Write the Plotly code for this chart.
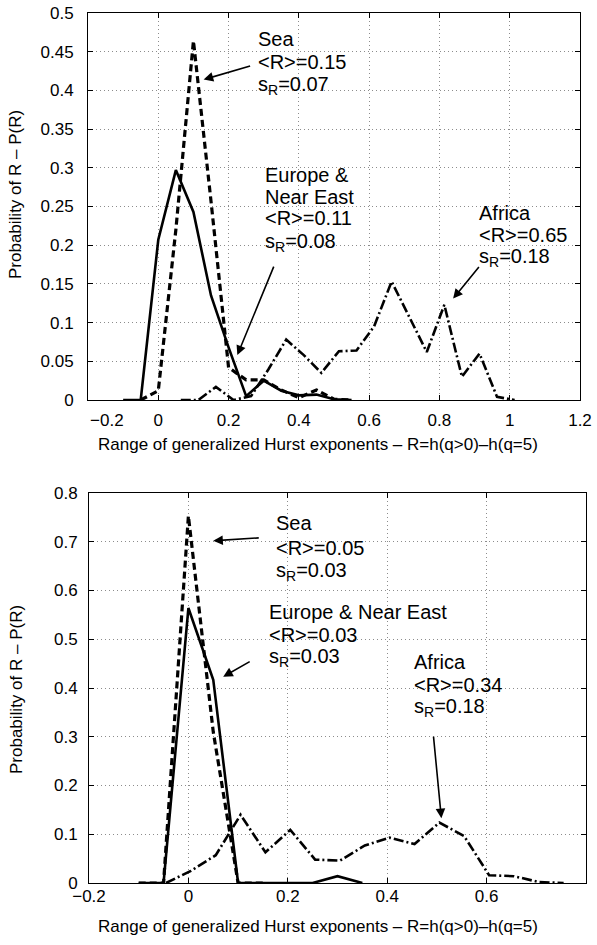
import plotly.graph_objects as go

# ---------------- data ----------------
# Top panel
eu_x_top = [-0.1, -0.05, 0, 0.05, 0.1, 0.15, 0.2, 0.25, 0.3, 0.35, 0.4, 0.45, 0.5, 0.55]
eu_y_top = [0, 0, 0.207, 0.297, 0.243, 0.135, 0.068, 0.005, 0.025, 0.012, 0.006, 0.007, 0.001, 0]
sea_x_top = [-0.05, 0, 0.05, 0.1, 0.15, 0.2, 0.25, 0.3, 0.35, 0.4, 0.45, 0.5, 0.55]
sea_y_top = [0, 0.012, 0.22, 0.464, 0.257, 0.042, 0.026, 0.026, 0.013, 0.003, 0.013, 0.001, 0]
af_x_top = [0.064, 0.114, 0.164, 0.214, 0.264, 0.314, 0.364, 0.414, 0.464, 0.514,
            0.564, 0.614, 0.664, 0.714, 0.764, 0.814, 0.864, 0.914, 0.964, 1.014]
af_y_top = [0, 0, 0.017, 0.0, 0.005, 0.04, 0.078, 0.058, 0.035, 0.063,
            0.064, 0.095, 0.153, 0.108, 0.062, 0.123, 0.03, 0.06, 0.004, 0]

# Bottom panel
eu_x_bot = [-0.1, -0.05, 0, 0.05, 0.1, 0.15, 0.2, 0.25, 0.3, 0.35]
eu_y_bot = [0, 0, 0.564, 0.417, 0, 0, 0, 0, 0.014, 0]
sea_x_bot = [-0.1, -0.05, 0, 0.05, 0.1, 0.15]
sea_y_bot = [0, 0, 0.753, 0.31, 0, 0]
af_x_bot = [-0.045, 0.005, 0.055, 0.105, 0.155, 0.205, 0.255, 0.305, 0.355, 0.405,
            0.455, 0.505, 0.555, 0.605, 0.655, 0.705, 0.755]
af_y_bot = [0, 0.025, 0.057, 0.14, 0.063, 0.109, 0.048, 0.046, 0.077, 0.093,
            0.08, 0.124, 0.096, 0.016, 0.014, 0.002, 0]

# tick labels
NB = "\u00a0"
xt_top_vals = [-0.2, 0, 0.2, 0.4, 0.6, 0.8, 1.0, 1.2]
xt_top_text = [NB * 8 + "\u22120.2", "0", "0.2", "0.4", "0.6", "0.8", "1", "1.2"]
yt_top_vals = [0, 0.05, 0.1, 0.15, 0.2, 0.25, 0.3, 0.35, 0.4, 0.45, 0.5]
yt_top_text = ["0", "0.05", "0.1", "0.15", "0.2", "0.25", "0.3", "0.35", "0.4", "0.45", "0.5"]
xt_bot_vals = [-0.2, 0, 0.2, 0.4, 0.6, 0.8]
xt_bot_text = ["\u22120.2", "0", "0.2", "0.4", "0.6", "0.8"]
yt_bot_vals = [0, 0.1, 0.2, 0.3, 0.4, 0.5, 0.6, 0.7, 0.8]
yt_bot_text = ["0", "0.1", "0.2", "0.3", "0.4", "0.5", "0.6", "0.7", "0.8"]

x_title = "Range of generalized Hurst exponents \u2013 R=h(q>0)\u2013h(q=5)"
y_title = "Probability of R \u2013 P(R)"

# ---------------- figure ----------------
W, H = 597, 945
FONT = "Liberation Sans, Arial, Helvetica, sans-serif"


def px(x):
    return x / W


def py(y):
    return 1 - y / H


fig = go.Figure()

solid = dict(color="black", width=2.6)
sea_line = dict(color="black", width=3.2, dash="7px,4px")
af_line = dict(color="black", width=2.6, dash="10px,3px,2px,3px")

fig.add_trace(go.Scatter(x=eu_x_top, y=eu_y_top, mode="lines", line=solid, xaxis="x", yaxis="y"))
fig.add_trace(go.Scatter(x=sea_x_top, y=sea_y_top, mode="lines", line=sea_line, xaxis="x", yaxis="y"))
fig.add_trace(go.Scatter(x=af_x_top, y=af_y_top, mode="lines", line=af_line, xaxis="x", yaxis="y"))

fig.add_trace(go.Scatter(x=eu_x_bot, y=eu_y_bot, mode="lines", line=solid, xaxis="x2", yaxis="y2"))
fig.add_trace(go.Scatter(x=sea_x_bot, y=sea_y_bot, mode="lines", line=sea_line, xaxis="x2", yaxis="y2"))
fig.add_trace(go.Scatter(x=af_x_bot, y=af_y_bot, mode="lines", line=af_line, xaxis="x2", yaxis="y2"))


def axis_style(**kw):
    d = dict(showline=True, linecolor="black", linewidth=1, mirror="ticks",
             ticks="inside", ticklen=5, tickcolor="black", tickwidth=1,
             showgrid=True, gridcolor="#8c8c8c", griddash="1px,3px", gridwidth=1,
             zeroline=False, tickfont=dict(size=17, color="black", family=FONT),
             tickmode="array", automargin=False)
    d.update(kw)
    return d


fig.update_layout(
    width=W, height=H, margin=dict(l=0, r=0, t=0, b=0, autoexpand=False),
    paper_bgcolor="white", plot_bgcolor="white", showlegend=False,
    font=dict(family=FONT, color="black"),
    xaxis=axis_style(domain=[px(88), px(580)], range=[-0.2, 1.2], anchor="y",
                     tickvals=xt_top_vals, ticktext=xt_top_text, ticklabelstandoff=5),
    yaxis=axis_style(domain=[py(400), py(13)], range=[0, 0.5], anchor="x",
                     tickvals=yt_top_vals, ticktext=yt_top_text, ticklabelstandoff=10),
    xaxis2=axis_style(domain=[px(89), px(586)], range=[-0.2, 0.8], anchor="y2",
                      tickvals=xt_bot_vals, ticktext=xt_bot_text, ticklabelstandoff=-2),
    yaxis2=axis_style(domain=[py(883), py(493)], range=[0, 0.8], anchor="x2",
                      tickvals=yt_bot_vals, ticktext=yt_bot_text, ticklabelstandoff=7),
)

ann = []


def text_line(xp, yp, txt, size=20):
    ann.append(dict(x=px(xp), y=py(yp), xref="paper", yref="paper", text=txt,
                    showarrow=False, xanchor="left", yanchor="middle",
                    font=dict(size=size, color="black", family=FONT)))


def arrow(xr, yr, hx, hy, ax, ay):
    ann.append(dict(x=hx, y=hy, xref=xr, yref=yr, ax=ax, ay=ay, text="",
                    showarrow=True, arrowhead=2, arrowsize=1.2, arrowwidth=1.6,
                    arrowcolor="black", standoff=0))


SUB = "s<sub>R</sub>"

# top annotations
text_line(256, 39, "Sea")
text_line(256, 62, "&lt;R&gt;=0.15")
text_line(256, 86, SUB + "=0.07")
text_line(263, 175, "Europe &amp;")
text_line(263, 197, "Near East")
text_line(263, 218, "&lt;R&gt;=0.11")
text_line(263, 242, SUB + "=0.08")
text_line(477, 213, "Africa")
text_line(477, 235, "&lt;R&gt;=0.65")
text_line(477, 258, SUB + "=0.18")
arrow("x", "y", 0.129, 0.414, 48, -14)
arrow("x", "y", 0.225, 0.058, 37, -90)
arrow("x", "y", 0.839, 0.131, 27, -33)

# bottom annotations
text_line(274, 523, "Sea")
text_line(274, 548, "&lt;R&gt;=0.05")
text_line(274, 571, SUB + "=0.03")
text_line(267, 612, "Europe &amp; Near East")
text_line(267, 635, "&lt;R&gt;=0.03")
text_line(267, 657, SUB + "=0.03")
text_line(412, 662, "Africa")
text_line(412, 685, "&lt;R&gt;=0.34")
text_line(412, 707, SUB + "=0.18")
arrow("x2", "y2", 0.05, 0.702, 47, -3)
arrow("x2", "y2", 0.07, 0.423, 28, -16)
arrow("x2", "y2", 0.509, 0.133, -8, -83)

# axis titles
for ycen in (444, 926):
    ann.append(dict(x=px(318), y=py(ycen), xref="paper", yref="paper", text=x_title,
                    showarrow=False, xanchor="center", yanchor="middle",
                    font=dict(size=17, color="black", family=FONT)))
for ycen in (195, 690):
    ann.append(dict(x=px(16), y=py(ycen), xref="paper", yref="paper", text=y_title,
                    showarrow=False, xanchor="center", yanchor="middle", textangle=-90,
                    font=dict(size=17, color="black", family=FONT)))

fig.update_layout(annotations=ann)
fig.write_html("out.html")
